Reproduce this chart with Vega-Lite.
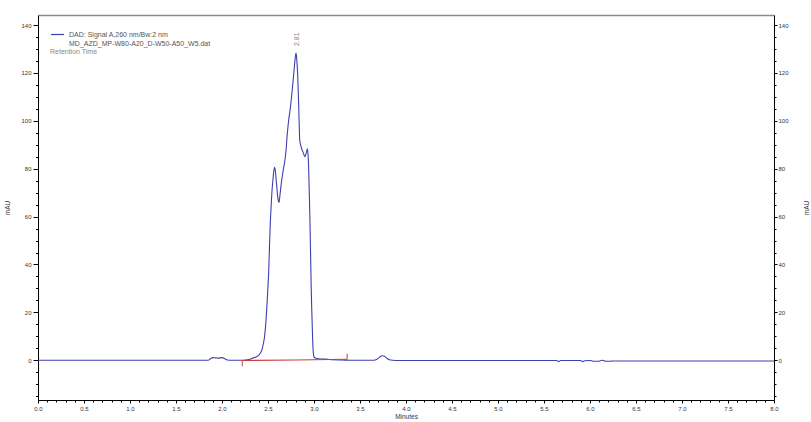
{
  "$schema": "https://vega.github.io/schema/vega-lite/v6.json",
  "width": 736,
  "height": 385,
  "autosize": {"type": "none"},
  "padding": {"left": 38, "top": 15, "right": 37, "bottom": 22},
  "background": "white",
  "config": {
    "view": {"stroke": null},
    "font": "Liberation Sans",
    "axis": {"grid": false, "domainColor": "#000", "tickColor": "#000", "labelColor": "#333", "titleColor": "#333", "labelFontSize": 6, "titleFontSize": 6.5, "titleFontWeight": "normal", "labelOverlap": false, "labelFlush": false}
  },
  "datasets": {
    "signal": [
      {"t": 0, "v": 0}, {"t": 1.85, "v": 0}, {"t": 1.87, "v": 0.5}, {"t": 1.9, "v": 1.1}, {"t": 1.93, "v": 1.0}, {"t": 1.96, "v": 0.9}, {"t": 2.0, "v": 1.1}, {"t": 2.03, "v": 0.6}, {"t": 2.06, "v": 0.1}, {"t": 2.1, "v": 0},
      {"t": 2.2, "v": 0}, {"t": 2.25, "v": 0.1}, {"t": 2.29, "v": 0.3}, {"t": 2.34, "v": 1.0}, {"t": 2.38, "v": 1.6}, {"t": 2.4, "v": 2.1}, {"t": 2.42, "v": 3.2}, {"t": 2.435, "v": 4.5}, {"t": 2.45, "v": 7}, {"t": 2.463, "v": 10},
      {"t": 2.475, "v": 15}, {"t": 2.488, "v": 22.5}, {"t": 2.497, "v": 29}, {"t": 2.507, "v": 36.4}, {"t": 2.515, "v": 46}, {"t": 2.525, "v": 57.3}, {"t": 2.535, "v": 65}, {"t": 2.543, "v": 70.5}, {"t": 2.555, "v": 76}, {"t": 2.565, "v": 79.5},
      {"t": 2.572, "v": 80.6}, {"t": 2.58, "v": 79}, {"t": 2.59, "v": 75}, {"t": 2.6, "v": 70.5}, {"t": 2.61, "v": 67}, {"t": 2.62, "v": 65.9}, {"t": 2.63, "v": 69}, {"t": 2.645, "v": 74}, {"t": 2.66, "v": 78}, {"t": 2.675, "v": 81.5},
      {"t": 2.689, "v": 85}, {"t": 2.7, "v": 89.5}, {"t": 2.707, "v": 93.4}, {"t": 2.717, "v": 97.5}, {"t": 2.725, "v": 100.4}, {"t": 2.74, "v": 104.5}, {"t": 2.76, "v": 111.5}, {"t": 2.78, "v": 119.8}, {"t": 2.79, "v": 124}, {"t": 2.8, "v": 127.5},
      {"t": 2.805, "v": 128.3}, {"t": 2.812, "v": 126}, {"t": 2.822, "v": 119.8}, {"t": 2.834, "v": 106}, {"t": 2.845, "v": 92}, {"t": 2.857, "v": 89.5}, {"t": 2.87, "v": 87.9}, {"t": 2.885, "v": 86.5}, {"t": 2.9, "v": 85}, {"t": 2.915, "v": 86.5},
      {"t": 2.928, "v": 88.3}, {"t": 2.935, "v": 86}, {"t": 2.942, "v": 80}, {"t": 2.95, "v": 68}, {"t": 2.955, "v": 60}, {"t": 2.96, "v": 50}, {"t": 2.965, "v": 40}, {"t": 2.97, "v": 29.5}, {"t": 2.975, "v": 22}, {"t": 2.98, "v": 15.6},
      {"t": 2.985, "v": 9}, {"t": 2.99, "v": 4.5}, {"t": 2.995, "v": 2.4}, {"t": 3.0, "v": 1.4}, {"t": 3.02, "v": 0.8}, {"t": 3.05, "v": 0.6}, {"t": 3.1, "v": 0.5}, {"t": 3.15, "v": 0.4}, {"t": 3.2, "v": 0.2}, {"t": 3.3, "v": 0.1},
      {"t": 3.4, "v": 0}, {"t": 3.65, "v": 0}, {"t": 3.68, "v": 0.3}, {"t": 3.71, "v": 1.2}, {"t": 3.74, "v": 1.9}, {"t": 3.76, "v": 1.8}, {"t": 3.79, "v": 0.9}, {"t": 3.82, "v": 0.2}, {"t": 3.86, "v": 0}, {"t": 3.9, "v": -0.1},
      {"t": 5.64, "v": -0.1}, {"t": 5.66, "v": -0.6}, {"t": 5.68, "v": -0.1}, {"t": 5.9, "v": -0.1}, {"t": 5.92, "v": -0.6}, {"t": 5.94, "v": -0.2}, {"t": 6.0, "v": -0.1}, {"t": 6.03, "v": -0.4}, {"t": 6.1, "v": -0.4}, {"t": 6.12, "v": -0.1},
      {"t": 6.14, "v": 0.0}, {"t": 6.17, "v": -0.4}, {"t": 6.22, "v": -0.4}, {"t": 6.24, "v": -0.3}, {"t": 8.0, "v": -0.3}
    ],
    "baseline": [
      {"t": 2.22, "v": -0.1}, {"t": 2.8, "v": 0.1}, {"t": 3.36, "v": 0.4}
    ],
    "marks": [
      {"t": 2.22, "v1": -0.1, "v2": -2.5},
      {"t": 3.36, "v1": 0.4, "v2": 2.7}
    ],
    "peaks": [
      {"t": 2.81, "v": 128.3, "label": "2.81"}
    ]
  },
  "resolve": {"axis": {"x": "independent", "y": "independent"}},
  "layer": [
    {
      "data": {"name": "signal"},
      "mark": {"type": "line", "strokeWidth": 1.1, "interpolate": "monotone"},
      "encoding": {
        "x": {"field": "t", "type": "quantitative",
          "scale": {"domain": [0, 8], "nice": false, "zero": false},
          "axis": {"orient": "bottom", "title": "Minutes", "titlePadding": 2,
            "values": [0,0.1,0.2,0.3,0.4,0.5,0.6,0.7,0.8,0.9,1,1.1,1.2,1.3,1.4,1.5,1.6,1.7,1.8,1.9,2,2.1,2.2,2.3,2.4,2.5,2.6,2.7,2.8,2.9,3,3.1,3.2,3.3,3.4,3.5,3.6,3.7,3.8,3.9,4,4.1,4.2,4.3,4.4,4.5,4.6,4.7,4.8,4.9,5,5.1,5.2,5.3,5.4,5.5,5.6,5.7,5.8,5.9,6,6.1,6.2,6.3,6.4,6.5,6.6,6.7,6.8,6.9,7,7.1,7.2,7.3,7.4,7.5,7.6,7.7,7.8,7.9,8],
            "labelExpr": "round(datum.value*10) % 5 === 0 ? format(datum.value, '.1f') : ''",
            "tickSize": {"condition": {"test": "round(datum.value*10) % 5 === 0", "value": 3}, "value": 2},
            "labelPadding": 2}},
        "y": {"field": "v", "type": "quantitative",
          "scale": {"domain": [-16.6, 144.2], "nice": false, "zero": false},
          "axis": {"orient": "left", "title": "mAU", "titlePadding": 10,
            "values": [-15,-10,-5,0,5,10,15,20,25,30,35,40,45,50,55,60,65,70,75,80,85,90,95,100,105,110,115,120,125,130,135,140],
            "labelExpr": "datum.value % 20 === 0 ? datum.label : ''",
            "tickSize": {"condition": {"test": "datum.value % 20 === 0", "value": 5}, "value": 2.5},
            "labelPadding": 2}},
        "color": {"datum": "DAD: Signal A,260 nm/Bw:2 nm", "type": "nominal",
          "scale": {"range": ["#3f3faf"]},
          "legend": {"orient": "top-left", "offset": 12, "padding": 0, "title": "Retention Time", "titleOrient": "bottom", "titleAnchor": "start", "titleFontSize": 7, "titleFontWeight": "normal", "titleColor": "#888", "titlePadding": 1,
            "labelExpr": "[datum.label, 'MD_AZD_MP-W80-A20_D-W50-A50_W5.dat']", "labelFontSize": 7, "labelColor": "#555", "labelLimit": 400,
            "symbolType": "stroke", "symbolSize": 169, "symbolStrokeWidth": 1.2}}
      }
    },
    {
      "data": {"name": "baseline"},
      "mark": {"type": "line", "color": "#cc3b3b", "strokeWidth": 1.1},
      "encoding": {
        "x": {"field": "t", "type": "quantitative",
          "axis": {"orient": "top", "title": null, "labels": false, "ticks": false, "domainColor": "#8a8a8a", "domainWidth": 1.6}},
        "y": {"field": "v", "type": "quantitative",
          "axis": {"orient": "right", "title": "mAU", "titlePadding": 21, "titleAngle": 270,
            "values": [-15,-10,-5,0,5,10,15,20,25,30,35,40,45,50,55,60,65,70,75,80,85,90,95,100,105,110,115,120,125,130,135,140],
            "labelExpr": "datum.value % 20 === 0 ? datum.label : ''",
            "tickSize": {"condition": {"test": "datum.value % 20 === 0", "value": 3}, "value": 2},
            "labelPadding": 1}}
      }
    },
    {
      "data": {"name": "marks"},
      "mark": {"type": "rule", "color": "#cc3b3b", "strokeWidth": 1},
      "encoding": {
        "x": {"field": "t", "type": "quantitative", "axis": null},
        "y": {"field": "v1", "type": "quantitative", "axis": null},
        "y2": {"field": "v2"}
      }
    },
    {
      "data": {"name": "peaks"},
      "mark": {"type": "text", "angle": 270, "align": "left", "baseline": "middle", "dx": 7, "fontSize": 7, "color": "#888"},
      "encoding": {
        "x": {"field": "t", "type": "quantitative", "axis": null},
        "y": {"field": "v", "type": "quantitative", "axis": null},
        "text": {"field": "label"}
      }
    }
  ]
}
